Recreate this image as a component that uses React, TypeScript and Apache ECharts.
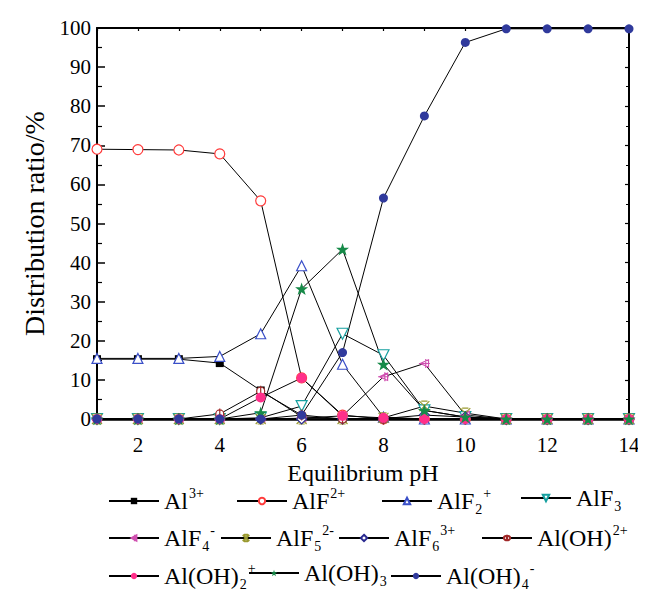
import React, { useEffect, useRef } from "react";
import * as echarts from "echarts";

const pH = [1, 2, 3, 4, 5, 6, 7, 8, 9, 10, 11, 12, 13, 14];
const xTicks = [2, 4, 6, 8, 10, 12, 14];

const al3 = [15.3, 15.3, 15.3, 14.3, 7.3, 0.6, 0, 0, 0, 0, 0, 0, 0, 0];
const alF2p = [69, 68.9, 68.8, 67.8, 55.8, 10.5, 1, 0, 0, 0, 0, 0, 0, 0];
const alF2 = [15.5, 15.5, 15.5, 16, 21.8, 39.2, 14, 0.5, 0, 0, 0, 0, 0, 0];
const alF3 = [0, 0, 0, 0, 0.3, 3.3, 21.8, 16.3, 2.2, 0.5, 0, 0, 0, 0];
const alF4 = [0, 0, 0, 0, 0, 0.2, 0.8, 10.8, 14.2, 1, 0, 0, 0, 0];
const alF5 = [0, 0, 0, 0, 0, 0, 0, 0.3, 3.3, 1.5, 0, 0, 0, 0];
const alF6 = [0, 0, 0, 0, 0, 0, 0, 0.1, 1, 0.5, 0, 0, 0, 0];
const alOH = [0, 0, 0, 1.3, 7.1, 1, 0, 0, 0, 0, 0, 0, 0, 0];
const alOH2 = [0, 0, 0, 0, 5.5, 10.5, 0.8, 0.3, 0, 0, 0, 0, 0, 0];
const alOH3 = [0, 0, 0, 0, 1.6, 33.3, 43.4, 14, 2.2, 0.5, 0, 0, 0, 0];
const alOH4 = [0, 0, 0, 0, 0, 1, 17, 56.5, 77.5, 96.3, 99.8, 99.8, 99.8, 99.8];

const names = [
  "Al3+",
  "AlF2+",
  "AlF2 +",
  "AlF3",
  "AlF4-",
  "AlF5 2-",
  "AlF6 3+",
  "Al(OH)2+",
  "Al(OH)2 +",
  "Al(OH)3",
  "Al(OH)4-",
];

const labelsRich: Record<string, string> = {
  "Al3+": "{m|Al}{sup|3+}",
  "AlF2+": "{m|AlF}{sup|2+}",
  "AlF2 +": "{m|AlF}{sub|2}{sup|+}",
  "AlF3": "{m|AlF}{sub|3}",
  "AlF4-": "{m|AlF}{sub|4}{sup|-}",
  "AlF5 2-": "{m|AlF}{sub|5}{sup|2-}",
  "AlF6 3+": "{m|AlF}{sub|6}{sup|3+}",
  "Al(OH)2+": "{m|Al(OH)}{sup|2+}",
  "Al(OH)2 +": "{m|Al(OH)}{sub|2}{sup|+}",
  "Al(OH)3": "{m|Al(OH)}{sub|3}",
  "Al(OH)4-": "{m|Al(OH)}{sub|4}{sup|-}",
};

const starPath =
  "path://M0,-10 L2.35,-3.24 L9.51,-3.09 L3.8,1.24 L5.88,8.09 L0,4 L-5.88,8.09 L-3.8,1.24 L-9.51,-3.09 L-2.35,-3.24 Z";
const leftTriPath = "path://M9,-8 L-9,0 L9,8 Z M-12,0 L12,0 M3,-10 L3,10";
const xPath = "path://M-8,-8 L8,8 M8,-8 L-8,8 M-5,-8 L5,-8 M-5,8 L5,8";
const circleBarPath =
  "path://M0,-11 L0,11 M-8,0 A8,8 0 1,1 8,0 A8,8 0 1,1 -8,0 Z";

const FONT = "Liberation Serif";

export default function App() {
  const ref = useRef<HTMLDivElement>(null);

  useEffect(() => {
    if (!ref.current) return;
    const chart = echarts.init(ref.current, undefined, { renderer: "svg" });

    const mk = (
      name: string,
      values: number[],
      symbol: string,
      color: string,
      opts: any = {}
    ) => ({
      name,
      type: "line",
      data: pH.map((x, i) => [x, values[i]]),
      symbol,
      symbolSize: opts.size ?? 8,
      symbolRotate: opts.rotate ?? 0,
      symbolKeepAspect: true,
      showSymbol: true,
      lineStyle: { color: "#000", width: 1 },
      itemStyle: opts.hollow
        ? { color: "#fff", borderColor: color, borderWidth: 1.2 }
        : { color, borderColor: color, borderWidth: opts.bw ?? 0 },
      emphasis: { disabled: true },
      z: opts.z ?? 2,
    });

    const series = [
      mk("Al3+", al3, "rect", "#000", { size: 8 }),
      mk("AlF2+", alF2p, "circle", "#ff3b3b", { hollow: true, size: 10 }),
      mk("AlF2 +", alF2, "triangle", "#3a4fc8", { hollow: true, size: 10 }),
      mk("AlF3", alF3, "triangle", "#16a0a0", { hollow: true, size: 11, rotate: 180 }),
      mk("AlF4-", alF4, leftTriPath, "#d050b0", { hollow: true, size: 11 }),
      mk("AlF5 2-", alF5, xPath, "#9a9a30", { hollow: true, size: 10 }),
      mk("AlF6 3+", alF6, "diamond", "#2a2a90", { hollow: true, size: 10 }),
      mk("Al(OH)2+", alOH, circleBarPath, "#a02828", { hollow: true, size: 11 }),
      mk("Al(OH)2 +", alOH2, "circle", "#ff2f8a", { size: 10 }),
      mk("Al(OH)3", alOH3, starPath, "#168a48", { size: 13 }),
      mk("Al(OH)4-", alOH4, "circle", "#303a9c", { size: 9 }),
    ];

    const rows = [
      { y: 498, items: [[0, 100], [1, 228], [2, 373], [3, 512]] },
      { y: 535, items: [[4, 100], [5, 212], [6, 330], [7, 473]] },
      { y: 573, items: [[8, 100], [9, 240], [10, 382]] },
    ];

    const legends: any[] = [];
    rows.forEach((row) => {
      row.items.forEach(([idx, left]) => {
        legends.push({
          data: [names[idx]],
          left,
          top: row.y - 20,
          padding: 0,
          itemWidth: 50,
          itemHeight: 8,
          itemGap: 0,
          selectedMode: false,
          formatter: (n: string) => labelsRich[n],
          textStyle: {
            fontFamily: FONT,
            color: "#000",
            rich: {
              m: { fontSize: 24, fontFamily: FONT, color: "#000", lineHeight: 30, verticalAlign: "middle" },
              sup: { fontSize: 14, fontFamily: FONT, color: "#000", lineHeight: 14, verticalAlign: "top", padding: [0, 0, 0, 1] },
              sub: { fontSize: 14, fontFamily: FONT, color: "#000", lineHeight: 14, verticalAlign: "bottom", padding: [0, 0, 0, 1] },
            },
          },
        });
      });
    });

    const option: any = {
      animation: false,
      backgroundColor: "#fff",
      textStyle: { fontFamily: FONT },
      grid: { left: 89, right: 25, top: 20, bottom: 179, containLabel: false },
      legend: legends,
      xAxis: [
        {
          type: "value",
          min: 1,
          max: 14,
          interval: 1,
          name: "Equilibrium pH",
          nameLocation: "middle",
          nameGap: 31,
          nameTextStyle: { fontFamily: FONT, fontSize: 24, lineHeight: 26, color: "#000" },
          axisLine: { show: true, onZero: false, lineStyle: { color: "#000", width: 2.5 } },
          axisTick: { show: true, inside: true, length: 5, lineStyle: { color: "#000", width: 1.2 } },
          axisLabel: {
            margin: 15,
            fontFamily: FONT,
            fontSize: 21,
            color: "#000",
            formatter: (v: number) => (xTicks.includes(v) ? String(v) : ""),
          },
          splitLine: { show: false },
        },
        {
          type: "value",
          position: "top",
          min: 1,
          max: 14,
          interval: 1,
          axisLine: { show: true, onZero: false, lineStyle: { color: "#000", width: 2 } },
          axisTick: { show: true, inside: true, length: 3, lineStyle: { color: "#000", width: 1.2 } },
          axisLabel: { show: false },
          splitLine: { show: false },
        },
      ],
      yAxis: [
        {
          type: "value",
          min: 0,
          max: 100,
          interval: 10,
          name: "Distribution ratio/%",
          nameLocation: "middle",
          nameGap: 45,
          nameTextStyle: { fontFamily: FONT, fontSize: 28, color: "#000" },
          axisLine: { show: true, onZero: false, lineStyle: { color: "#000", width: 2 } },
          axisTick: { show: true, inside: true, length: 8, lineStyle: { color: "#000", width: 1.5 } },
          minorTick: { show: true, splitNumber: 2, length: 5, lineStyle: { color: "#000", width: 1.2 } },
          axisLabel: { margin: 6, fontFamily: FONT, fontSize: 21, color: "#000" },
          splitLine: { show: false },
          minorSplitLine: { show: false },
        },
        {
          type: "value",
          position: "right",
          min: 0,
          max: 100,
          interval: 10,
          axisLine: { show: true, onZero: false, lineStyle: { color: "#000", width: 2 } },
          axisTick: { show: true, inside: true, length: 4, lineStyle: { color: "#000", width: 1.2 } },
          minorTick: { show: true, splitNumber: 2, length: 3, lineStyle: { color: "#000", width: 1 } },
          axisLabel: { show: false },
          splitLine: { show: false },
          minorSplitLine: { show: false },
        },
      ],
      series,
    };

    chart.setOption(option);
    return () => chart.dispose();
  }, []);

  return <div ref={ref} style={{ width: 646, height: 590 }} />;
}
